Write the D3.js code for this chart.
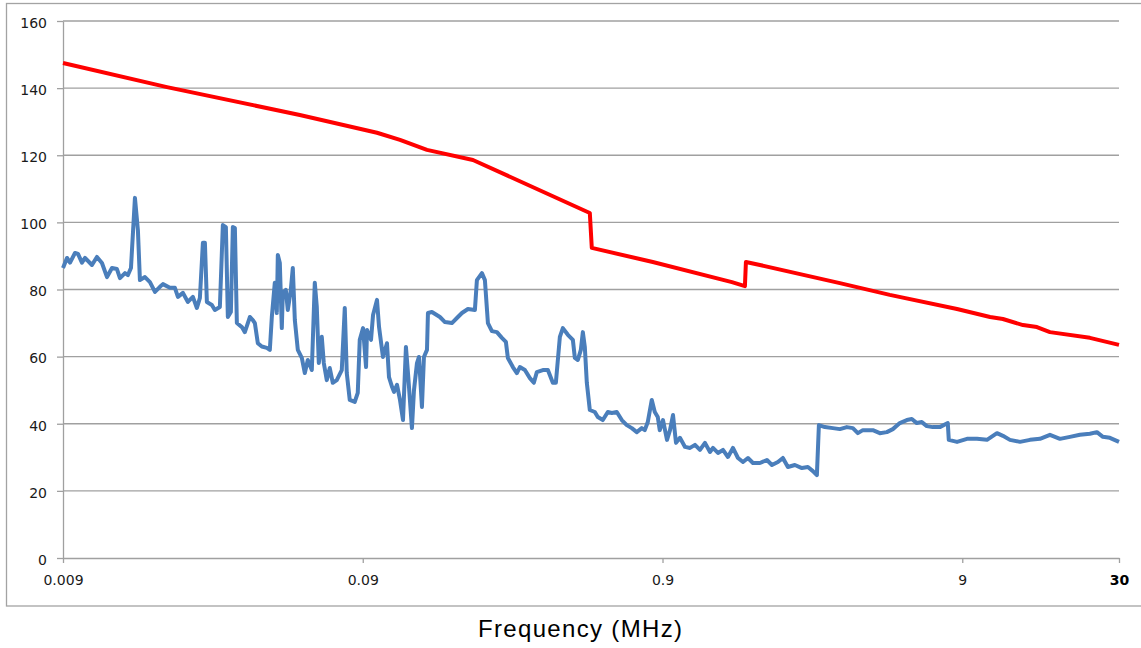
<!DOCTYPE html>
<html lang="en">
<head>
<meta charset="UTF-8">
<title>Emission vs limit</title>
<script src="https://d3js.org/d3.v7.min.js"></script>
<style>
  body { margin: 0; background: #fff; }
  svg { display: block; }
</style>
</head>
<body>
<script>
// measured level, [frequency MHz, level]
const emission = [
  [0.009,86.4],[0.00928,89.4],[0.0095,88],[0.00987,90.9],[0.0101,90.6],[0.01041,88],[0.01066,89.4],
  [0.01124,87.3],[0.01168,89.7],[0.01214,87.9],[0.01262,83.7],[0.01311,86.4],[0.01362,86.1],[0.01394,83.4],
  [0.01449,84.9],[0.01482,84.3],[0.01517,86.4],[0.01564,107.3],[0.016,97.7],[0.01625,82.8],[0.01689,83.7],
  [0.01755,82.2],[0.01824,79.3],[0.01895,80.8],[0.01939,81.6],[0.02046,80.5],[0.02126,80.5],[0.02176,77.8],
  [0.02261,79],[0.02349,76.3],[0.02441,77.8],[0.02517,74.5],[0.02576,77.5],[0.02636,93.9],[0.02677,93.9],
  [0.02718,76.3],[0.02824,75.4],[0.0289,73.9],[0.03003,74.8],[0.03073,99.2],[0.03145,98.6],[0.03193,71.8],
  [0.03268,73.3],[0.03318,98.6],[0.0337,98.3],[0.03422,70],[0.03556,68.8],[0.03638,67.3],[0.03781,71.8],
  [0.03869,70.9],[0.03929,70],[0.0402,64],[0.04145,63],[0.04308,62.6],[0.04408,62],[0.04476,71.8],
  [0.0458,82],[0.04651,73],[0.04687,90.3],[0.0476,87.9],[0.04833,68.5],[0.04871,79],[0.04984,79.9],
  [0.05061,73.9],[0.05179,79.9],[0.05259,86.4],[0.05341,70.9],[0.05465,62],[0.05636,59.6],[0.05767,55.1],
  [0.05901,59],[0.06086,56],[0.06226,82],[0.06323,74.8],[0.06421,58.1],[0.0657,65.9],[0.06672,58.1],
  [0.06827,53],[0.06986,56.6],[0.07149,52.2],[0.07372,53],[0.0766,56],[0.07839,74.5],[0.0796,55.1],
  [0.08145,47.1],[0.08464,46.5],[0.08661,49.2],[0.08795,65],[0.0902,68.5],[0.0923,56.9],[0.093,67.9],
  [0.0959,65],[0.0974,72.4],[0.1004,76.9],[0.102,68.8],[0.1051,59.9],[0.1084,64],[0.1101,53.9],
  [0.1127,51],[0.1144,49.5],[0.1171,51.6],[0.1198,47.1],[0.1226,41.1],[0.1254,62.9],[0.1274,55.1],
  [0.1313,38.7],[0.1334,50],[0.1365,58.1],[0.1386,59.9],[0.1418,45],[0.144,59.9],[0.1474,62],
  [0.1485,73],[0.1531,73.3],[0.1628,71.8],[0.1692,70.3],[0.1785,70],[0.1855,71.5],[0.1928,73],
  [0.2019,74.2],[0.213,73.9],[0.2163,82.8],[0.2248,84.9],[0.23,82.8],[0.2354,70],[0.2427,67.6],
  [0.2522,67.3],[0.2621,65.6],[0.2702,64.4],[0.2744,59.6],[0.2851,56.9],[0.294,55.1],[0.3009,56.9],
  [0.3127,56],[0.3249,53.6],[0.335,52.2],[0.3428,55.4],[0.359,56],[0.3731,56],[0.3876,52.2],
  [0.3967,52.2],[0.4091,65.9],[0.4186,68.5],[0.435,66.5],[0.452,65],[0.459,59.6],[0.4696,59],
  [0.4806,62],[0.488,67.3],[0.4955,62.9],[0.5032,52.2],[0.5149,44.1],[0.5351,43.5],[0.5475,42],
  [0.569,41.1],[0.5913,43.5],[0.6097,43.2],[0.6335,43.5],[0.6583,41.1],[0.6841,39.6],[0.7108,38.7],
  [0.7386,37.5],[0.7675,38.7],[0.7854,38.1],[0.8037,40.5],[0.8288,47.1],[0.8481,43.5],[0.8678,42],
  [0.8812,38.1],[0.9034,41.1],[0.9316,35.2],[0.9534,38.1],[0.9755,42.6],[0.9983,34.3],[1.029,35.8],
  [1.07,33.1],[1.112,32.8],[1.155,33.7],[1.2,32.2],[1.247,34.3],[1.296,31.6],[1.326,32.8],
  [1.378,31.3],[1.432,32.2],[1.488,30.1],[1.546,32.8],[1.607,29.8],[1.67,28.6],[1.735,29.8],
  [1.803,28.3],[1.902,28.3],[2.007,29.2],[2.086,27.7],[2.184,28.6],[2.269,29.8],[2.358,27.1],
  [2.488,27.7],[2.626,26.8],[2.75,27.1],[2.857,25.9],[2.946,24.7],[2.992,39.6],[3.133,39],
  [3.331,38.7],[3.515,38.4],[3.709,39],[3.884,38.7],[4.036,37.2],[4.194,38.1],[4.528,38.1],
  [4.778,37.2],[5.042,37.5],[5.28,38.4],[5.571,40.2],[5.879,41.1],[6.109,41.4],[6.348,40.2],
  [6.596,40.5],[6.854,39.3],[7.177,39],[7.573,39],[8.053,40.2],[8.115,35.2],[8.645,34.6],
  [9.334,35.5],[10.08,35.5],[10.88,35.2],[11.75,37.2],[12.3,36.4],[12.98,35.2],[14.02,34.6],
  [15.14,35.2],[16.35,35.5],[17.65,36.7],[19.06,35.5],[20.58,36.1],[22.22,36.7],[23.99,37],
  [25.32,37.5],[26.51,36.1],[27.97,35.8],[30,34.6]
];

// limit line, [frequency MHz, level]
const limit = [
  [0.009,147.5],[0.02,140.3],[0.0555,132],[0.1004,126.7],[0.1198,124.6],[0.1474,121.6],
  [0.2098,118.6],[0.5149,102.8],[0.5228,92.4],[0.8352,88.2],[1.534,82.2],[1.695,81],
  [1.708,88.2],[1.902,87.3],[3.515,81.9],[5.159,78.4],[8.645,74.2],[11.14,71.8],[12.3,71.2],
  [14.35,69.4],[15.97,68.8],[17.65,67.3],[23.99,65.6],[30,63.5]
];

const xTickValues = [0.009, 0.09, 0.9, 9, 30];
const xTickLabels = ["0.009", "0.09", "0.9", "9", "30"];
const yTicks = [0, 20, 40, 60, 80, 100, 120, 140, 160];
const xTitle = "Frequency (MHz)";

const W = 1141, H = 648;
const margin = {top: 21, right: 22, bottom: 90, left: 63};

const svg = d3.select("body").append("svg")
  .attr("width", W).attr("height", H);

// outer frame
svg.append("rect")
  .attr("x", 6.5).attr("y", 3.5)
  .attr("width", W).attr("height", 602.5)
  .attr("fill", "none").attr("stroke", "#a3a3a3").attr("stroke-width", 1.3);

const x = d3.scaleLog().domain([0.009, 30]).range([margin.left, W - margin.right]);
const y = d3.scaleLinear().domain([0, 160]).range([H - margin.bottom, margin.top]);

// horizontal gridlines
svg.append("g").selectAll("line")
  .data(yTicks.filter(d => d > 0))
  .enter().append("line")
  .attr("x1", x(0.009)).attr("x2", x(30))
  .attr("y1", d => y(d)).attr("y2", d => y(d))
  .attr("stroke", "#a0a0a0").attr("stroke-width", 1.3);

const yAxis = svg.append("g")
  .attr("transform", "translate(" + margin.left + ",0)")
  .call(d3.axisLeft(y).tickValues(yTicks).tickSize(6).tickSizeOuter(0).tickPadding(10));

const xAxis = svg.append("g")
  .attr("transform", "translate(0," + y(0) + ")")
  .call(d3.axisBottom(x).tickValues(xTickValues)
    .tickFormat((d, i) => xTickLabels[i])
    .tickSize(5).tickSizeOuter(0).tickPadding(12));

[yAxis, xAxis].forEach(function(a){
  a.select(".domain").attr("stroke", "#a0a0a0").attr("stroke-width", 1.3);
  a.selectAll(".tick line").attr("stroke", "#a0a0a0").attr("stroke-width", 1.3);
  a.selectAll(".tick text")
    .attr("fill", "#1a1a1a")
    .style("font-family", "'DejaVu Sans', Verdana, sans-serif")
    .style("font-size", "14px");
});
yAxis.selectAll(".tick text").attr("dy", "0.45em");
xAxis.selectAll(".tick text")
  .filter(d => d === 30)
  .style("font-weight", "bold").attr("fill", "#000");

const line = d3.line()
  .x(d => x(d[0]))
  .y(d => y(d[1]));

svg.append("path")
  .datum(emission)
  .attr("d", line)
  .attr("fill", "none")
  .attr("stroke", "#4a7ebb")
  .attr("stroke-width", 4)
  .attr("stroke-linejoin", "round");

svg.append("path")
  .datum(limit)
  .attr("d", line)
  .attr("fill", "none")
  .attr("stroke", "#ff0000")
  .attr("stroke-width", 4)
  .attr("stroke-linejoin", "round");

svg.append("text")
  .attr("x", 580).attr("y", 637)
  .attr("text-anchor", "middle")
  .attr("textLength", 204)
  .attr("fill", "#000")
  .style("font-family", "'Liberation Sans', Arial, sans-serif")
  .style("font-size", "24px")
  .text(xTitle);
</script>
</body>
</html>
